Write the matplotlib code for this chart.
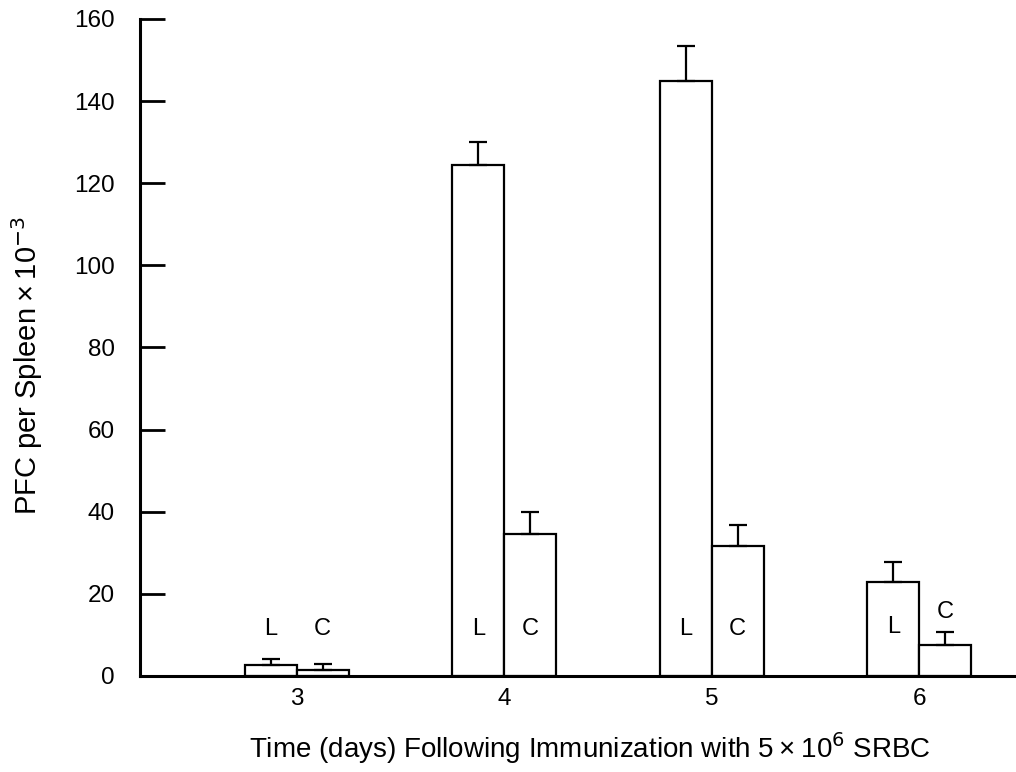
import numpy as np
import matplotlib
matplotlib.use("Agg")
import matplotlib.pyplot as plt

# values (PFC per spleen x 10^-3)
days = [3, 4, 5, 6]
l_means = [2.7, 124.4, 144.8, 22.8]
l_err = [1.4, 5.6, 8.6, 5.0]
c_means = [1.5, 34.5, 31.6, 7.5]
c_err = [1.4, 5.4, 5.2, 3.2]
y_ticks = [0, 20, 40, 60, 80, 100, 120, 140, 160]

plt.rcParams['font.family'] = ['Liberation Sans', 'DejaVu Sans']

fig = plt.figure(figsize=(10.16, 7.72), dpi=100)
ax = fig.add_axes([0.1378, 0.1244, 0.8622, 0.851])

x = np.array(days, dtype=float)
w = 0.25
bar_kw = dict(width=w, color='white', edgecolor='black', linewidth=1.6, zorder=2)
ax.bar(x - w / 2, l_means, **bar_kw)
ax.bar(x + w / 2, c_means, **bar_kw)

err_kw = dict(fmt='none', ecolor='black', elinewidth=1.6, capsize=6.5, capthick=1.6, zorder=3)
ax.errorbar(x - w / 2, l_means, yerr=[np.zeros(4), l_err], **err_kw)
ax.errorbar(x + w / 2, c_means, yerr=[np.zeros(4), c_err], **err_kw)

# bar letters: above the small bars on day 3, inside on days 4/5, mixed on day 6
txt_kw = dict(ha='center', va='center', fontsize=17)
for d in days:
    ly = 11.5 if d != 6 else 12
    cy = 11.5 if d != 6 else 15.6
    ax.text(d - w / 2, ly, 'L', **txt_kw)
    ax.text(d + w / 2, cy, 'C', **txt_kw)

ax.set_xlim(2.245, 6.466)
ax.set_ylim(0, 160)
ax.set_xticks(days)
ax.set_xticklabels([str(d) for d in days])
ax.set_yticks(y_ticks)

for s in ['top', 'right']:
    ax.spines[s].set_visible(False)
ax.spines['left'].set_linewidth(2.2)
ax.spines['bottom'].set_linewidth(2.2)

ax.tick_params(axis='y', direction='in', length=18, width=2, labelsize=17.5, pad=18)
ax.tick_params(axis='x', length=0, labelsize=17.5, pad=9)

ax.set_ylabel('PFC per Spleen\u2009\u00d7\u200910$^{-3}$', fontsize=21)
ax.set_xlabel('Time (days) Following Immunization with 5\u2009\u00d7\u200910$^{6}$ SRBC',
              fontsize=20)
ax.yaxis.set_label_coords(-0.108, 0.472)
ax.xaxis.set_label_coords(0.514, -0.082)

fig.savefig('out.png', dpi=100)
